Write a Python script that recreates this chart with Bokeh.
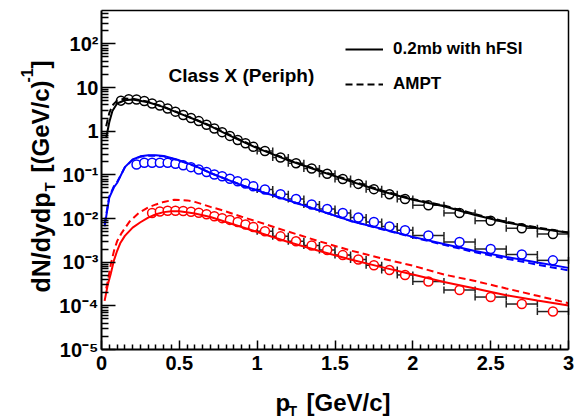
import math

from bokeh.plotting import figure
from bokeh.models import (ColumnDataSource, CustomJSTickFormatter, FixedTicker, Label,
                          Legend, LegendItem, LinearAxis, TeeHead, Whisker)
from bokeh.embed import file_html
from bokeh.resources import INLINE

# ---------------------------------------------------------------------------
# Measured spectra: bin centres (GeV/c) and dN/dydpT ((GeV/c)^-1)
# ---------------------------------------------------------------------------
pion_pt = [0.125, 0.175, 0.225, 0.275, 0.325, 0.375, 0.425, 0.475, 0.525, 0.575,
           0.625, 0.675, 0.725, 0.775, 0.825, 0.875, 0.925, 0.975,
           1.05, 1.15, 1.25, 1.35, 1.45, 1.55, 1.65, 1.75, 1.85, 1.95,
           2.1, 2.3, 2.5, 2.7, 2.9]
pion_yield = [5.0, 5.4, 5.3, 4.9, 4.3, 3.85, 3.3, 2.8, 2.35, 2.0,
              1.7, 1.4, 1.15, 0.95, 0.78, 0.63, 0.53, 0.44,
              0.35, 0.25, 0.185, 0.14, 0.106, 0.080, 0.062, 0.047, 0.036, 0.028,
              0.020, 0.0134, 0.0089, 0.0060, 0.0044]

kaon_pt = [0.225, 0.275, 0.325, 0.375, 0.425, 0.475, 0.525, 0.575,
           0.625, 0.675, 0.725, 0.775, 0.825, 0.875, 0.925, 0.975,
           1.05, 1.15, 1.25, 1.35, 1.45, 1.55, 1.65, 1.75, 1.85, 1.95,
           2.1, 2.3, 2.5, 2.7, 2.9]
kaon_yield = [0.172, 0.19, 0.19, 0.19, 0.188, 0.18, 0.165, 0.15,
              0.133, 0.116, 0.102, 0.093, 0.081, 0.071, 0.063, 0.055,
              0.046, 0.036, 0.028, 0.021, 0.0166, 0.0134, 0.0105, 0.0083, 0.0066, 0.0054,
              0.0041, 0.0029, 0.0020, 0.0015, 0.0011]

proton_pt = [0.325, 0.375, 0.425, 0.475, 0.525, 0.575,
             0.625, 0.675, 0.725, 0.775, 0.825, 0.875, 0.925, 0.975,
             1.05, 1.15, 1.25, 1.35, 1.45, 1.55, 1.65, 1.75, 1.85, 1.95,
             2.1, 2.3, 2.5, 2.7, 2.9]
proton_yield = [0.0134, 0.0145, 0.015, 0.015, 0.0148, 0.0143,
                0.0135, 0.0125, 0.0113, 0.0102, 0.0093, 0.0083, 0.0073, 0.0064,
                0.0051, 0.0039, 0.0030, 0.0024, 0.0019, 0.00145, 0.00115, 0.00085, 0.00066, 0.00051,
                0.00036, 0.00023, 0.000159, 0.00011, 0.000074]

# ---------------------------------------------------------------------------
# Model curves: 0.2mb with hFSI (solid) and AMPT (dashed)
# ---------------------------------------------------------------------------
pion_model_pt = [0.03, 0.05, 0.07, 0.1, 0.15, 0.2, 0.3, 0.4, 0.5, 0.6, 0.7, 0.8,
                 0.9, 1.0, 1.2, 1.4, 1.6, 1.8, 2.0, 2.2, 2.4, 2.6, 2.8, 3.0]
pion_hfsi = [0.7, 1.6, 2.9, 4.3, 5.1, 5.3, 4.6, 3.55, 2.55, 1.85, 1.3, 0.87,
             0.59, 0.41, 0.215, 0.122, 0.071, 0.042, 0.027, 0.019, 0.012, 0.0081, 0.0060, 0.0047]
pion_ampt = [1.3, 2.6, 3.9, 5.0, 5.6, 5.5, 4.7, 3.6, 2.6, 1.88, 1.33, 0.9,
             0.61, 0.425, 0.222, 0.126, 0.074, 0.044, 0.028, 0.0198, 0.0126, 0.0084, 0.0062, 0.0048]

kaon_model_pt = [0.02, 0.05, 0.08, 0.1, 0.15, 0.2, 0.25, 0.3, 0.35, 0.4, 0.5, 0.6, 0.7,
                 0.8, 0.9, 1.0, 1.2, 1.4, 1.6, 1.8, 2.0, 2.2, 2.4, 2.6, 2.8, 3.0]
kaon_hfsi = [0.0066, 0.03, 0.052, 0.065, 0.15, 0.225, 0.265, 0.28, 0.28, 0.27, 0.215, 0.16, 0.11,
             0.08, 0.058, 0.044, 0.026, 0.0152, 0.0088, 0.0058, 0.0038, 0.0026, 0.0018, 0.00132,
             0.00098, 0.00074]
kaon_ampt = [0.0075, 0.032, 0.055, 0.068, 0.148, 0.22, 0.26, 0.275, 0.275, 0.265, 0.212, 0.158, 0.11,
             0.08, 0.058, 0.044, 0.026, 0.0152, 0.0088, 0.0057, 0.0037, 0.0025, 0.00168, 0.0012,
             0.00088, 0.00065]

proton_model_pt = [0.02, 0.04, 0.06, 0.08, 0.1, 0.12, 0.15, 0.2, 0.25, 0.3, 0.35, 0.4, 0.45,
                   0.5, 0.6, 0.7, 0.8, 0.9, 1.0, 1.2, 1.4, 1.6, 1.8, 2.0, 2.2, 2.4, 2.6, 2.8, 3.0]
proton_hfsi = [1.3e-4, 3.0e-4, 5.5e-4, 1.1e-3, 1.8e-3, 2.7e-3, 4.0e-3, 6.2e-3, 8.2e-3, 0.0105,
               0.0125, 0.014, 0.0147, 0.0146, 0.013, 0.0108, 0.0083, 0.0064, 0.0049, 0.0029,
               0.0018, 0.00115, 0.00077, 0.00052, 0.00035, 0.00025, 0.000175, 0.000132, 0.000102]

proton_ampt_pt = [0.03, 0.04, 0.06, 0.08, 0.1, 0.13, 0.18, 0.24, 0.3, 0.35, 0.4, 0.47, 0.55,
                  0.6, 0.7, 0.8, 0.9, 1.0, 1.2, 1.4, 1.6, 1.8, 2.0, 2.2, 2.4, 2.6, 2.8, 3.0]
proton_ampt = [2.5e-4, 3.6e-4, 9e-4, 1.8e-3, 3.0e-3, 4.7e-3, 8.5e-3, 0.0134, 0.018, 0.021,
               0.024, 0.027, 0.026, 0.024, 0.0185, 0.0145, 0.011, 0.0085, 0.0050, 0.0030,
               0.00185, 0.00122, 0.00083, 0.00052, 0.00037, 0.00025, 0.00017, 0.000115]

# axis ticks
x_major = [0, 0.5, 1, 1.5, 2, 2.5, 3]
y_decades = [-5, -4, -3, -2, -1, 0, 1, 2]

FONT = "Liberation Sans"
BLACK, BLUE, RED = "#000000", "#0000ff", "#ff0000"
DASH = "7 4"

# Canvas size and the pixel box (from top-left) that holds the data window.
# The plot frame covers the whole canvas; the ranges are widened so that the
# data window lands in that box, and the axes are pinned to its edges.
W, H = 575, 417
BOX_LEFT, BOX_TOP, BOX_RIGHT, BOX_BOTTOM = 101, 10, 568, 349
X_START, X_END = 0.0, 3.0
Y_START, Y_END = 1e-5, 5.8e2

px_per_x = (BOX_RIGHT - BOX_LEFT) / (X_END - X_START)
lo_dec, hi_dec = math.log10(Y_START), math.log10(Y_END)
px_per_dec = (BOX_BOTTOM - BOX_TOP) / (hi_dec - lo_dec)
x_range = (X_START - BOX_LEFT / px_per_x, X_END + (W - BOX_RIGHT) / px_per_x)
y_range = (10 ** (lo_dec - (H - BOX_BOTTOM) / px_per_dec), 10 ** (hi_dec + BOX_TOP / px_per_dec))


def half_width(pt):
    """Half of the pT bin width used for the measurement."""
    if pt < 1.0:
        return 0.025
    if pt < 2.0:
        return 0.05
    return 0.1


def screen(cx, cy):
    """Canvas pixel position (from top-left) -> frame screen units (from bottom-left)."""
    return cx, H - cy


p = figure(width=W, height=H, x_range=x_range, y_range=y_range,
           y_axis_type="log", output_backend="svg", toolbar_location=None,
           min_border_left=0, min_border_right=0, min_border_top=0, min_border_bottom=0)
p.xgrid.visible = False
p.ygrid.visible = False
p.outline_line_color = None
p.background_fill_color = "white"
p.border_fill_color = "white"

# --- axes pinned to the edges of the data window ----------------------------
x_minor = [round(0.05 * i, 2) for i in range(61) if i % 10 != 0]
p.xaxis.ticker = FixedTicker(ticks=x_major, minor_ticks=x_minor)
p.xaxis.formatter = CustomJSTickFormatter(code="return String(Math.round(tick * 10) / 10);")
p.xaxis.fixed_location = Y_START
p.xaxis.bounds = (X_START, X_END)

y_major = [10.0 ** e for e in y_decades]
y_minor = [m * 10.0 ** e for e in y_decades for m in range(2, 10) if m * 10.0 ** e <= Y_END]
p.yaxis.ticker = FixedTicker(ticks=y_major, minor_ticks=y_minor)
p.yaxis.formatter = CustomJSTickFormatter(code="""
    const e = Math.round(Math.log10(tick));
    if (e == 0) return "1";
    if (e == 1) return "10";
    const sup = {"-": "\u207b", "0": "\u2070", "1": "\u00b9", "2": "\u00b2", "3": "\u00b3",
                 "4": "\u2074", "5": "\u2075", "6": "\u2076", "7": "\u2077", "8": "\u2078", "9": "\u2079"};
    return "10" + String(e).split("").map(c => sup[c]).join("");
""")
p.yaxis.fixed_location = X_START
p.yaxis.bounds = (Y_START, Y_END)

for ax in (p.xaxis, p.yaxis):
    ax.axis_line_width = 2
    ax.major_tick_out = 0
    ax.minor_tick_out = 0
    ax.major_tick_line_width = 1.5
    ax.minor_tick_line_width = 1.5
    ax.major_label_text_font = FONT
    ax.major_label_text_font_style = "bold"
    ax.major_label_text_font_size = "20px"
    ax.major_label_text_color = "black"

p.xaxis.major_tick_in = 9
p.xaxis.minor_tick_in = 5
p.xaxis.major_label_standoff = 6
p.yaxis.major_tick_in = 14
p.yaxis.minor_tick_in = 7
p.yaxis.major_label_standoff = 3

# plain top and right edges of the box
top_edge = LinearAxis(fixed_location=Y_END, bounds=(X_START, X_END),
                      ticker=FixedTicker(ticks=[]), axis_line_width=1.5,
                      major_tick_in=0, major_tick_out=0, minor_tick_in=0, minor_tick_out=0)
right_edge = LinearAxis(fixed_location=X_END, bounds=(Y_START, Y_END),
                        ticker=FixedTicker(ticks=[]), axis_line_width=1.5,
                        major_tick_in=0, major_tick_out=0, minor_tick_in=0, minor_tick_out=0)
p.add_layout(top_edge, "above")
p.add_layout(right_edge, "right")

# --- data: error bars, markers ----------------------------------------------
species = [
    (pion_pt, pion_yield, BLACK),
    (kaon_pt, kaon_yield, BLUE),
    (proton_pt, proton_yield, RED),
]

for pts, vals, color in species:
    # horizontal bin-width bars, visible only where they stick out of the marker
    wide = [(x, v) for x, v in zip(pts, vals) if half_width(x) >= 0.05]
    src = ColumnDataSource(data=dict(
        y=[v for _, v in wide],
        lo=[x - half_width(x) for x, _ in wide],
        hi=[x + half_width(x) for x, _ in wide],
    ))
    wh = Whisker(source=src, base="y", lower="lo", upper="hi", dimension="width",
                 line_color="#222222", line_width=1.5, level="underlay",
                 lower_head=TeeHead(size=7, line_color="#222222", line_width=1.5),
                 upper_head=TeeHead(size=7, line_color="#222222", line_width=1.5))
    p.add_layout(wh)

for pts, vals, color in species:
    p.scatter(pts, vals, marker="circle", size=9, line_color=color, line_width=1.5,
              fill_color="white")

# --- model curves -----------------------------------------------------------
r_hfsi_pi = p.line(pion_model_pt, pion_hfsi, line_color=BLACK, line_width=2)
r_ampt_pi = p.line(pion_model_pt, pion_ampt, line_color=BLACK, line_width=2, line_dash=DASH)
p.line(kaon_model_pt, kaon_hfsi, line_color=BLUE, line_width=2)
p.line(kaon_model_pt, kaon_ampt, line_color=BLUE, line_width=2, line_dash=DASH)
p.line(proton_model_pt, proton_hfsi, line_color=RED, line_width=2)
p.line(proton_ampt_pt, proton_ampt, line_color=RED, line_width=2, line_dash=DASH)

# --- legend (location = bottom-left corner of the legend box) ---------------
legend = Legend(items=[LegendItem(label="0.2mb with hFSI", renderers=[r_hfsi_pi]),
                       LegendItem(label="AMPT", renderers=[r_ampt_pi])],
                location=screen(345, 39 + 55), orientation="vertical",
                glyph_width=38, glyph_height=20, label_height=20, label_standoff=10,
                spacing=15, padding=0, margin=0,
                border_line_color=None, background_fill_alpha=0,
                label_text_font=FONT, label_text_font_style="bold",
                label_text_font_size="17px", label_text_color="black")
p.add_layout(legend)


# --- texts ------------------------------------------------------------------
def add_text(cx, cy, text, size, angle=0.0):
    sx, sy = screen(cx, cy)
    p.add_layout(Label(x=sx, y=sy, x_units="screen", y_units="screen", text=text,
                       angle=angle, text_font=FONT, text_font_style="bold",
                       text_font_size=size, text_color="black",
                       text_align="left", text_baseline="alphabetic"))


add_text(168, 75, "Class X (Periph)", "19px")

# x-axis title: p_T [GeV/c]
add_text(275, 402, "p", "24px")
add_text(288, 410, "T", "14px")
add_text(306, 402, "[GeV/c]", "24px")

# y-axis title: dN/dydp_T [(GeV/c)^-1], reading bottom to top
up = math.pi / 2
add_text(40, 292, "dN/dydp", "25px", up)
add_text(49, 191, "T", "15px", up)
add_text(40, 172, "[(GeV/c)", "24px", up)
add_text(26, 82, "-1", "16px", up)
add_text(40, 68, "]", "24px", up)

open("out.html", "w").write(file_html(p, INLINE))
